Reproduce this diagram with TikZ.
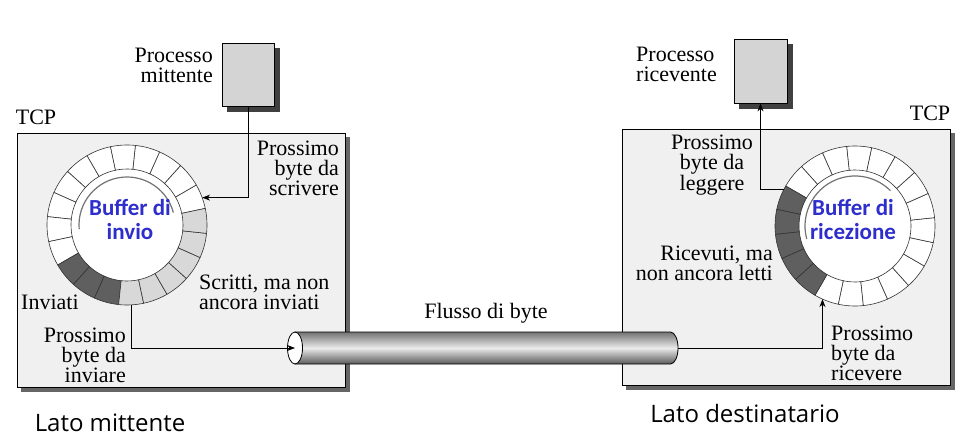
\documentclass[tikz,border=0pt]{standalone}
\usepackage{fontspec}
\setmainfont{Liberation Serif}
\newfontfamily\bufferfont{Carlito}
\newfontfamily\sidefont{Open Sans}
\usetikzlibrary{positioning,calc,shadows,arrows.meta}

\definecolor{bufblue}{RGB}{46,46,204}
\definecolor{tcpgray}{RGB}{240,240,240}
\definecolor{procgray}{RGB}{212,212,212}
\definecolor{sentgray}{RGB}{95,95,95}
\definecolor{writgray}{RGB}{216,216,216}

\begin{document}
\begin{tikzpicture}[x=1pt, y=1pt,
    tcpbox/.style={draw=black, fill=tcpgray, line width=0.8pt, inner sep=0pt,
        copy shadow={shadow xshift=4pt, shadow yshift=-4pt, fill=black!60, draw=black!60}},
    proc/.style={draw=black, fill=procgray, line width=0.8pt, inner sep=0pt,
        minimum width=52pt, minimum height=63pt,
        copy shadow={shadow xshift=5pt, shadow yshift=-5pt, fill=black!75, draw=black!75}},
    lbl/.style={font=\fontsize{22}{20}\selectfont, inner sep=0pt},
    buftext/.style={font=\bufferfont\bfseries\fontsize{23}{24}\selectfont, text=bufblue, align=center, inner sep=0pt},
    side/.style={font=\sidefont\fontsize{24}{26}\selectfont, inner sep=0pt},
    link/.style={line width=0.8pt, -{Stealth[length=8pt, width=6pt]}},
    seg/.style={draw=black!80, line width=0.6pt}
]
\useasboundingbox (0,0) rectangle (979,442);

% TCP boxes
\node[tcpbox, minimum width=328pt, minimum height=254pt] (tcpS) at (181,182) {};
\node[tcpbox, minimum width=328pt, minimum height=256pt] (tcpR) at (786,185) {};
\node[lbl] at (36,325) {TCP};
\node[lbl] at (930,329) {TCP};

% Processes
\node[proc] (procS) at (248,367.5) {};
\node[proc, minimum width=53pt, minimum height=64pt] (procR) at (760.5,371) {};
\node[lbl, align=right, anchor=east] at (213,377) {Processo\\mittente};
\node[lbl, align=left, anchor=west] at (636,378) {Processo\\ricevente};

% Send buffer
\coordinate (sndC) at (127,217);
\fill[white] (sndC) circle[radius=56];
\foreach \s [evaluate=\s as \e using \s+18] in {12,30,...,192}
  \draw[seg, fill=white] ([shift={(\s:56)}]sndC) arc[start angle=\s, end angle=\e, radius=56]
    -- ([shift={(\e:80)}]sndC) arc[start angle=\e, end angle=\s, radius=80] -- cycle;
\foreach \s [evaluate=\s as \e using \s+18] in {210,228,246}
  \draw[seg, fill=sentgray] ([shift={(\s:56)}]sndC) arc[start angle=\s, end angle=\e, radius=56]
    -- ([shift={(\e:80)}]sndC) arc[start angle=\e, end angle=\s, radius=80] -- cycle;
\foreach \s [evaluate=\s as \e using \s+18] in {264,282,...,354}
  \draw[seg, fill=writgray] ([shift={(\s:56)}]sndC) arc[start angle=\s, end angle=\e, radius=56]
    -- ([shift={(\e:80)}]sndC) arc[start angle=\e, end angle=\s, radius=80] -- cycle;
\draw[black!55, line width=1.2pt] ([shift={(185:48)}]sndC) arc[start angle=185, end angle=15, radius=48];
\node[buftext] (sndBuf) at (130,222) {Buffer di\\invio};

% Receive buffer
\coordinate (rcvC) at (855,216);
\fill[white] (rcvC) circle[radius=56];
\foreach \s [evaluate=\s as \e using \s+18] in {240,258,...,492}
  \draw[seg, fill=white] ([shift={(\s:56)}]rcvC) arc[start angle=\s, end angle=\e, radius=56]
    -- ([shift={(\e:80)}]rcvC) arc[start angle=\e, end angle=\s, radius=80] -- cycle;
\foreach \s [evaluate=\s as \e using \s+18] in {150,168,...,222}
  \draw[seg, fill=sentgray] ([shift={(\s:56)}]rcvC) arc[start angle=\s, end angle=\e, radius=56]
    -- ([shift={(\e:80)}]rcvC) arc[start angle=\e, end angle=\s, radius=80] -- cycle;
\draw[black!55, line width=1.2pt] ([shift={(195:50)}]rcvC) arc[start angle=195, end angle=45, radius=50];
\node[buftext] (rcvBuf) at (853,222) {Buffer di\\ricezione};

% Byte stream
\coordinate (pipeIn) at (295,94);
\coordinate (pipeOut) at (678,94);
\shade[top color=black!55, bottom color=black!65, middle color=black!8, draw=black, line width=0.8pt]
  (295,110) -- (670.5,110) arc[start angle=90, end angle=-90, x radius=7.5, y radius=16] -- (295,78) -- cycle;
\draw[fill=white, line width=0.8pt] (pipeIn) ellipse[x radius=7.5, y radius=16];
\node[lbl] at (486,129) {Flusso di byte};

% Pointers
\coordinate (sndNext) at ($(sndC)+(20:80)$);
\coordinate (sndOut) at ($(sndC)+(273:80)$);
\coordinate (rcvNext) at ($(rcvC)+(246:80)$);
\coordinate (rcvRead) at ($(rcvC)+(153:80)$);
\draw[link] (procS.south) |- (sndNext);
\draw[link] (sndOut) |- (pipeIn);
\draw[link] (pipeOut) -| (rcvNext);
\draw[link] (rcvRead) -| (procR.south);

% Labels
\node[lbl, align=right, anchor=east] at (339,274) {Prossimo\\byte da\\scrivere};
\node[lbl, align=left, anchor=west] at (199,150) {Scritti, ma non\\ancora inviati};
\node[lbl, anchor=west] at (21,140) {Inviati};
\node[lbl, align=right, anchor=east] at (126,87) {Prossimo\\byte da\\inviare};
\node[lbl, align=center] at (712,277) {Prossimo\\byte da\\leggere};
\node[lbl, align=right, anchor=east] at (773,179) {Ricevuti, ma\\non ancora letti};
\node[lbl, align=left, anchor=west] at (831,89) {Prossimo\\byte da\\ricevere};

% Sides
\node[side] at (110,19) {Lato mittente};
\node[side] at (745,29) {Lato destinatario};

\end{tikzpicture}
\end{document}
